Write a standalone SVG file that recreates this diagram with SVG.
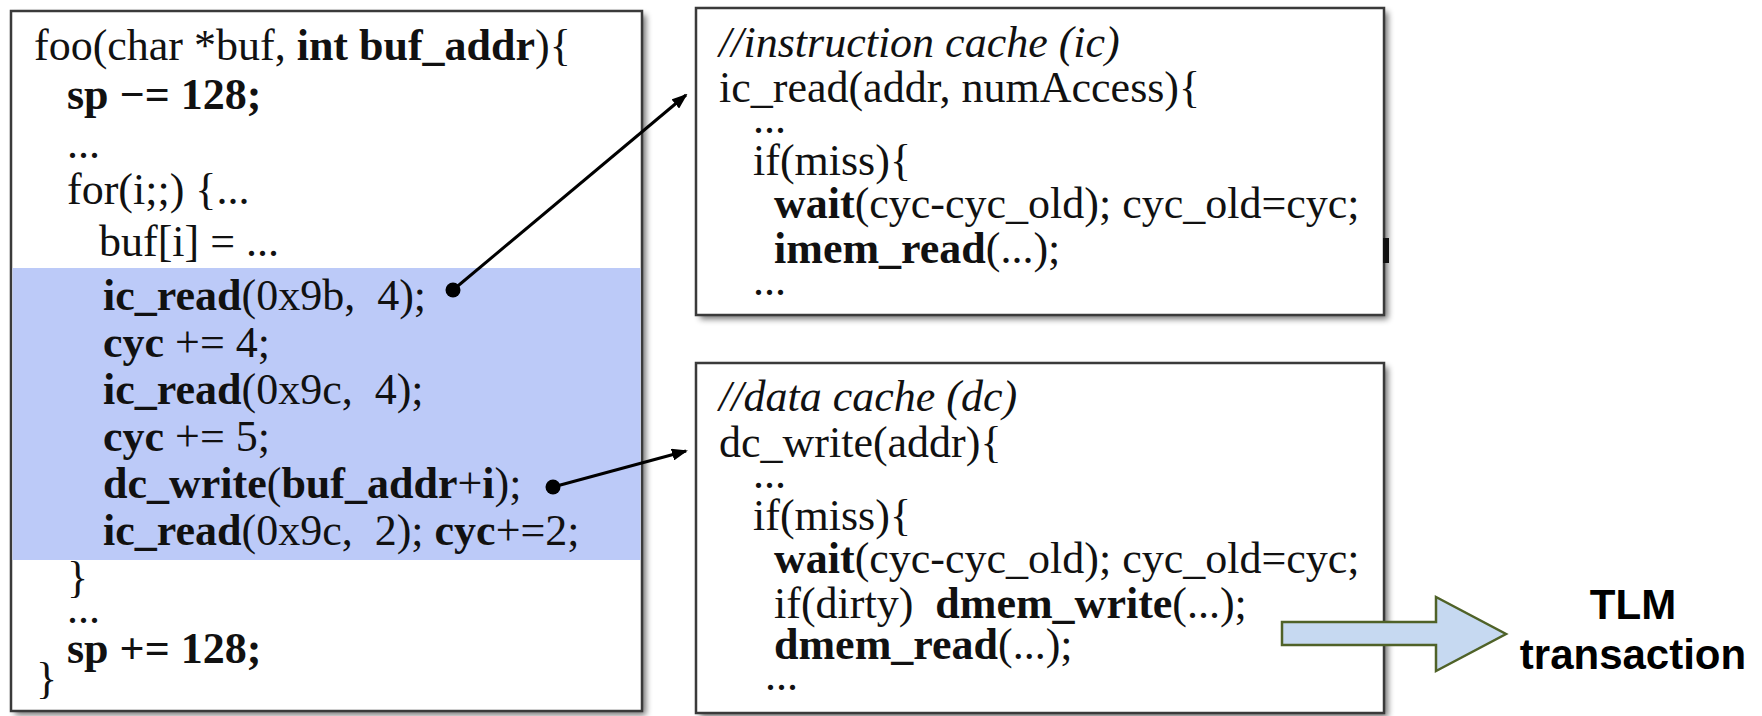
<svg xmlns="http://www.w3.org/2000/svg" width="1762" height="716" viewBox="0 0 1762 716">
<style>
.code{font-family:"Liberation Serif","Times New Roman",serif;font-size:44px;fill:#111;}
.b{font-weight:bold;}
.it{font-style:italic;}
.box{fill:#fff;stroke:#3a3a3a;stroke-width:2.5;}
.shadow{fill:#000;opacity:0.55;filter:url(#blur);}
.conn{stroke:#000;stroke-width:3;fill:none;}
.tlm{font-family:"Liberation Sans",Arial,sans-serif;font-size:42px;font-weight:bold;fill:#000;text-anchor:middle;}
</style>
<defs>
<filter id="blur" x="-5%" y="-5%" width="110%" height="110%"><feGaussianBlur stdDeviation="3"/></filter>
<marker id="ah" markerWidth="16" markerHeight="12" refX="14" refY="6" orient="auto" markerUnits="userSpaceOnUse"><path d="M0,0 L16,6 L0,12 z" fill="#000"/></marker>
</defs>
<rect width="1762" height="716" fill="#fff"/>

<g id="main-code">
<rect class="shadow" x="15" y="15" width="631" height="700"/>
<rect class="box" x="11" y="11" width="631" height="700"/>
<rect x="12.5" y="268" width="628" height="292" fill="#bccaf8"/>
<text class="code" xml:space="preserve"><tspan x="34" y="60">foo(char *buf, <tspan class="b">int buf_addr</tspan>){</tspan></text>
<text class="code b" x="67" y="109">sp −= 128;</text>
<text class="code" x="67" y="158">...</text>
<text class="code" x="67" y="204">for(i;;) {...</text>
<text class="code" x="99" y="256">buf[i] = ...</text>
<text class="code" xml:space="preserve" x="103" y="310"><tspan class="b">ic_read</tspan>(0x9b,  4);</text>
<text class="code" xml:space="preserve" x="103" y="357"><tspan class="b">cyc</tspan> += 4;</text>
<text class="code" xml:space="preserve" x="103" y="404"><tspan class="b">ic_read</tspan>(0x9c,  4);</text>
<text class="code" xml:space="preserve" x="103" y="451"><tspan class="b">cyc</tspan> += 5;</text>
<text class="code" xml:space="preserve" x="103" y="498"><tspan class="b">dc_write</tspan>(<tspan class="b">buf_addr</tspan>+<tspan class="b">i</tspan>);</text>
<text class="code" xml:space="preserve" x="103" y="545"><tspan class="b">ic_read</tspan>(0x9c,  2); <tspan class="b">cyc</tspan>+=2;</text>
<text class="code" x="67" y="592">}</text>
<text class="code" x="67" y="623">...</text>
<text class="code b" x="67" y="663">sp += 128;</text>
<text class="code" x="36" y="693">}</text>
</g>

<g id="icache">
<rect class="shadow" x="700" y="12" width="688" height="307"/>
<rect class="box" x="696" y="8" width="688" height="307"/>
<rect x="1383" y="238" width="6" height="25" fill="#111"/>
<text class="code it" x="719" y="57">//instruction cache (ic)</text>
<text class="code" x="719" y="102">ic_read(addr, numAccess){</text>
<text class="code" x="753" y="133">...</text>
<text class="code" x="753" y="175">if(miss){</text>
<text class="code" x="774" y="218"><tspan class="b">wait</tspan>(cyc-cyc_old); cyc_old=cyc;</text>
<text class="code" x="774" y="263"><tspan class="b">imem_read</tspan>(...);</text>
<text class="code" x="753" y="295">...</text>
</g>

<g id="dcache">
<rect class="shadow" x="700" y="367" width="688" height="350"/>
<rect class="box" x="696" y="363" width="688" height="350"/>
<text class="code it" x="719" y="411">//data cache (dc)</text>
<text class="code" x="719" y="457">dc_write(addr){</text>
<text class="code" x="753" y="488">...</text>
<text class="code" x="753" y="530">if(miss){</text>
<text class="code" x="774" y="573"><tspan class="b">wait</tspan>(cyc-cyc_old); cyc_old=cyc;</text>
<text class="code" xml:space="preserve" x="774" y="618">if(dirty)  <tspan class="b">dmem_write</tspan>(...);</text>
<text class="code" x="774" y="659"><tspan class="b">dmem_read</tspan>(...);</text>
<text class="code" x="765" y="690">...</text>
</g>

<g id="connectors">
<line class="conn" x1="453" y1="290" x2="686" y2="95" marker-end="url(#ah)"/>
<circle cx="453" cy="290" r="7.5" fill="#000"/>
<line class="conn" x1="553" y1="487" x2="686" y2="451" marker-end="url(#ah)"/>
<circle cx="553" cy="487" r="7.5" fill="#000"/>
</g>

<g id="tlm">
<polygon points="1282,622 1436,622 1436,597 1506,634 1436,671 1436,645 1282,645" fill="#c6d9f1" stroke="#4f6228" stroke-width="2.5" stroke-linejoin="miter"/>
<text class="tlm" x="1633" y="619">TLM</text>
<text class="tlm" x="1633" y="669">transaction</text>
</g>
</svg>
